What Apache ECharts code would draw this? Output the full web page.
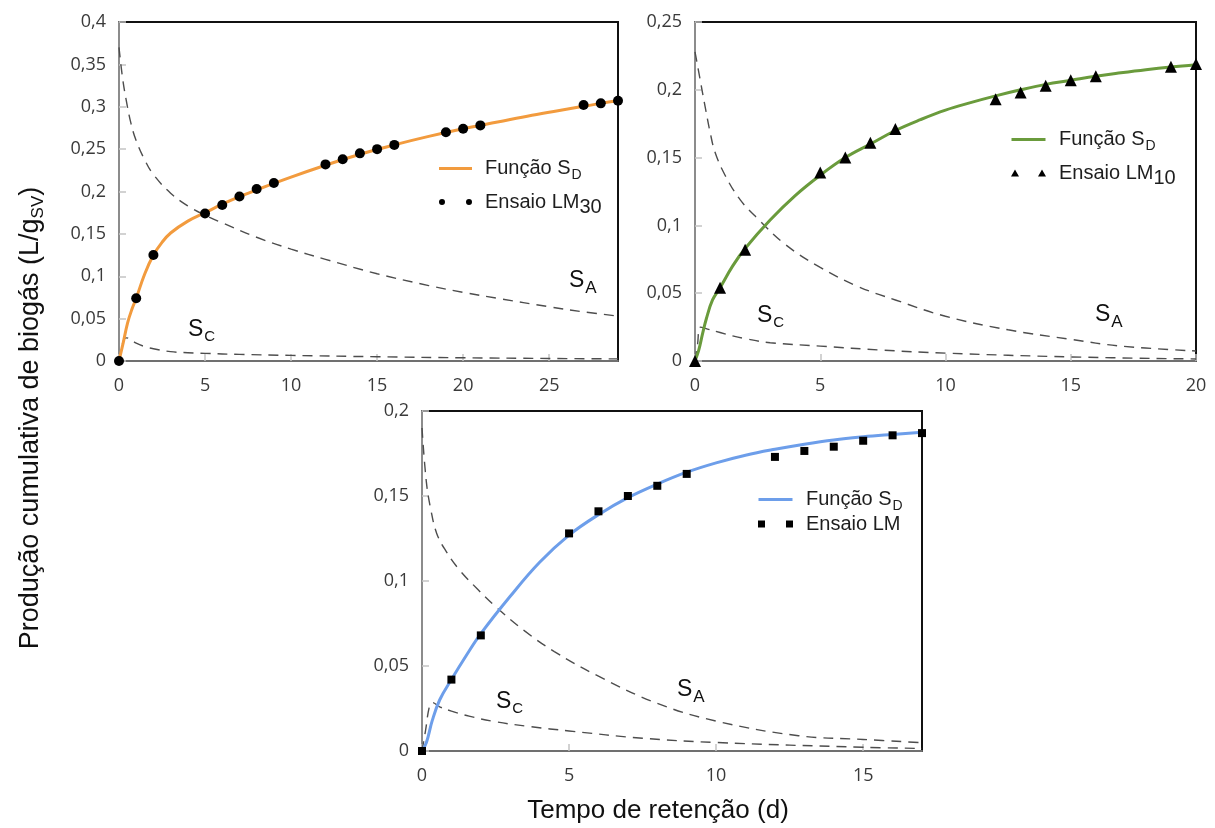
<!DOCTYPE html>
<html>
<head>
<meta charset="utf-8">
<script src="https://cdn.jsdelivr.net/npm/echarts@6/dist/echarts.min.js"></script>
<style>
  html, body { margin: 0; padding: 0; background: #ffffff; }
  #chart { width: 1215px; height: 828px; }
</style>
</head>
<body>
<div id="chart"></div>
<script>
// ---- Ensaio LM30 (x até 29 d) ----
const diasLM30 = [0, 1, 2, 5, 6, 7, 8, 9, 12, 13, 14, 15, 16, 19, 20, 21, 27, 28, 29];
const ensaioLM30 = [0, 0.074, 0.125, 0.174, 0.184, 0.194, 0.203, 0.21, 0.232, 0.238, 0.245, 0.25, 0.255, 0.27, 0.274, 0.278, 0.302, 0.304, 0.307];
const tempoSD30 = [0, 0.25, 0.5, 0.75, 1, 1.5, 2, 2.5, 3, 4, 5, 6, 7, 8, 10, 12, 14, 16, 18, 20, 22, 24, 26, 28, 29];
const funcaoSD30 = [0, 0.022, 0.045, 0.061, 0.074, 0.103, 0.125, 0.14, 0.151, 0.165, 0.175, 0.185, 0.194, 0.202, 0.217, 0.231, 0.244, 0.255, 0.265, 0.274, 0.282, 0.29, 0.297, 0.304, 0.307];
const tempoSA30 = [0, 0.2, 0.4, 0.7, 1, 1.5, 2, 3, 4, 5, 6, 8, 10, 12, 15, 18, 20, 22, 25, 27, 29];
const curvaSA30 = [0.37, 0.335, 0.31, 0.28, 0.26, 0.237, 0.22, 0.198, 0.183, 0.172, 0.163, 0.146, 0.132, 0.12, 0.103, 0.089, 0.081, 0.074, 0.064, 0.058, 0.053];
const tempoSC30 = [0, 0.15, 0.3, 0.45, 0.7, 1, 1.5, 2, 3, 4, 5, 7, 10, 15, 20, 25, 29];
const curvaSC30 = [0, 0.015, 0.026, 0.0273, 0.025, 0.021, 0.017, 0.0145, 0.011, 0.0098, 0.009, 0.0078, 0.0066, 0.005, 0.0038, 0.003, 0.0025];

// ---- Ensaio LM10 (x até 20 d) ----
const diasLM10 = [0, 1, 2, 5, 6, 7, 8, 12, 13, 14, 15, 16, 19, 20];
const ensaioLM10 = [0, 0.054, 0.082, 0.139, 0.15, 0.161, 0.171, 0.193, 0.198, 0.203, 0.207, 0.21, 0.217, 0.219];
const tempoSD10 = [0, 0.15, 0.3, 0.45, 0.7, 1, 1.5, 2, 3, 4, 5, 6, 7, 8, 9, 10, 11, 12, 13, 14, 15, 16, 17, 18, 19, 20];
const funcaoSD10 = [0, 0.008, 0.02, 0.031, 0.045, 0.054, 0.07, 0.083, 0.104, 0.122, 0.137, 0.15, 0.16, 0.17, 0.178, 0.185, 0.1905, 0.1955, 0.2, 0.204, 0.207, 0.21, 0.2125, 0.2148, 0.2168, 0.2185];
const tempoSA10 = [0, 0.2, 0.4, 0.6, 0.8, 1.2, 1.8, 2.5, 3.6, 5, 6.5, 8, 10, 12.5, 15, 17, 20];
const curvaSA10 = [0.228, 0.208, 0.188, 0.169, 0.154, 0.137, 0.119, 0.105, 0.086, 0.069, 0.055, 0.045, 0.033, 0.023, 0.016, 0.011, 0.0074];
const tempoSC10 = [0, 0.1, 0.22, 0.5, 1, 1.5, 2, 3, 5, 7.5, 10, 15, 20];
const curvaSC10 = [0, 0.012, 0.025, 0.0235, 0.021, 0.0185, 0.0165, 0.0135, 0.011, 0.008, 0.0058, 0.003, 0.0015];

// ---- Ensaio LM (x até 17 d) ----
const diasLM = [0, 1, 2, 5, 6, 7, 8, 9, 12, 13, 14, 15, 16, 17];
const ensaioLM = [0, 0.042, 0.068, 0.128, 0.141, 0.15, 0.156, 0.163, 0.173, 0.1765, 0.179, 0.1825, 0.1857, 0.187];
const tempoSD = [0, 0.15, 0.35, 0.6, 1, 1.5, 2, 3, 4, 5, 6, 7, 8, 9, 10, 11, 12, 13, 14, 15, 16, 17];
const funcaoSD = [0, 0.005, 0.018, 0.03, 0.042, 0.056, 0.069, 0.091, 0.111, 0.127, 0.139, 0.149, 0.157, 0.164, 0.1695, 0.174, 0.1775, 0.1805, 0.183, 0.1848, 0.1862, 0.1875];
const tempoSA = [0, 0.15, 0.3, 0.5, 0.8, 1.25, 1.9, 2.5, 3.5, 4.5, 6, 8, 10, 12.8, 15, 17];
const curvaSA = [0.19, 0.158, 0.142, 0.128, 0.118, 0.107, 0.095, 0.085, 0.0705, 0.0585, 0.044, 0.028, 0.0176, 0.009, 0.0068, 0.0049];
const tempoSC = [0, 0.12, 0.25, 0.35, 0.6, 1, 1.6, 2.5, 3.7, 5, 7.5, 10, 15, 17];
const curvaSC = [0, 0.012, 0.026, 0.0285, 0.026, 0.0235, 0.0205, 0.0172, 0.0143, 0.0118, 0.0075, 0.005, 0.0022, 0.0015];

// Limites dos eixos de cada painel
const xMax = [29, 20, 17];
const yMax = [0.4, 0.25, 0.2];

const pares = (xs, ys) => xs.map((x, i) => [x, ys[i]]);

const FONTE_NUM = 'Open Sans, Liberation Sans, sans-serif';
const FONTE_TXT = 'Liberation Sans, Arial, sans-serif';
const virgula = v => String(+v.toFixed(3)).replace('.', ',');

const grades = [
  { left: 119, top: 22, width: 499, height: 339 },
  { left: 695, top: 22, width: 501, height: 339 },
  { left: 422, top: 411, width: 500, height: 340 }
].map(g => Object.assign({
  show: true, borderColor: '#111', borderWidth: 2, backgroundColor: '#fff',
  containLabel: false, outerBoundsMode: 'none'
}, g));

const eixosX = xMax.map((m, i) => ({
  type: 'value', gridIndex: i, min: 0, max: m, interval: 5,
  axisLine: { show: true, onZero: false, lineStyle: { color: '#707070', width: 2 } },
  axisTick: { show: true, inside: true, length: 7, lineStyle: { color: '#c4c4c4', width: 1.5 } },
  axisLabel: { margin: 16, fontFamily: FONTE_NUM, fontSize: 18, color: '#3a3a3a', showMaxLabel: m % 5 === 0 },
  splitLine: { show: false }
}));

const eixosY = yMax.map((m, i) => ({
  type: 'value', gridIndex: i, min: 0, max: m, interval: 0.05,
  axisLine: { show: true, onZero: false, lineStyle: { color: '#8c8c8c', width: 2 } },
  axisTick: { show: true, inside: true, length: 7, lineStyle: { color: '#c4c4c4', width: 1.5 } },
  axisLabel: { margin: 13, fontFamily: FONTE_NUM, fontSize: 18, color: '#3a3a3a', formatter: virgula },
  splitLine: { show: false }
}));

function curvaTracejada(nome, i, xs, ys) {
  return {
    name: nome, type: 'line', xAxisIndex: i, yAxisIndex: i, data: pares(xs, ys),
    symbol: 'none', smooth: 0.4, silent: true, z: 2,
    lineStyle: { color: '#4d4d4d', width: 1.4, type: [10, 7] }
  };
}
function curvaSD(nome, i, xs, ys, cor) {
  return {
    name: nome, type: 'line', xAxisIndex: i, yAxisIndex: i, data: pares(xs, ys),
    symbol: 'none', smooth: 0.4, z: 3,
    itemStyle: { color: cor }, lineStyle: { color: cor, width: 3 }
  };
}
function pontos(nome, i, xs, ys, simbolo, tam) {
  return {
    name: nome, type: 'scatter', xAxisIndex: i, yAxisIndex: i, data: pares(xs, ys),
    symbol: simbolo, symbolSize: tam, z: 4, itemStyle: { color: '#000', opacity: 1 }
  };
}

const series = [
  curvaTracejada('SA30', 0, tempoSA30, curvaSA30),
  curvaTracejada('SC30', 0, tempoSC30, curvaSC30),
  curvaSD('SD30', 0, tempoSD30, funcaoSD30, '#f29b3e'),
  pontos('LM30', 0, diasLM30, ensaioLM30, 'circle', 10),

  curvaTracejada('SA10', 1, tempoSA10, curvaSA10),
  curvaTracejada('SC10', 1, tempoSC10, curvaSC10),
  curvaSD('SD10', 1, tempoSD10, funcaoSD10, '#6a9b3c'),
  pontos('LM10', 1, diasLM10, ensaioLM10, 'triangle', 12),

  curvaTracejada('SA', 2, tempoSA, curvaSA),
  curvaTracejada('SC', 2, tempoSC, curvaSC),
  curvaSD('SD', 2, tempoSD, funcaoSD, '#6d9eea'),
  pontos('LM', 2, diasLM, ensaioLM, 'rect', 8)
];

// Rótulos da legenda com índices
const rotulos = {
  SD30: '{m|Função S}{s|D}', LM30: '{m|Ensaio LM}{n|30}',
  SD10: '{m|Função S}{s|D}', LM10: '{m|Ensaio LM}{n|10}',
  SD: '{m|Função S}{s|D}', LM: '{m|Ensaio LM}'
};
const richLegenda = {
  m: { fontFamily: FONTE_TXT, fontSize: 20, lineHeight: 28, color: '#1e1e1e' },
  s: { fontFamily: FONTE_TXT, fontSize: 14, lineHeight: 14, padding: [13, 0, 0, 1], color: '#1e1e1e' },
  n: { fontFamily: FONTE_TXT, fontSize: 20, lineHeight: 20, padding: [10, 0, 0, 0], color: '#1e1e1e' }
};
// Ícones: traço de 3 px (com cantos invisíveis para fixar a caixa), pares de marcadores
const iconeTraco = 'path://M0,0h0.01v0.01h-0.01z M0,2h34v3h-34z M0,6.99h0.01v0.01h-0.01z';
const iconeDots = 'path://M0,3.5a3,3 0 1,1 6,0a3,3 0 1,1 -6,0z M27,3.5a3,3 0 1,1 6,0a3,3 0 1,1 -6,0z M0,0h0.01v0.01h-0.01z M0,6.99h0.01v0.01h-0.01z';
const iconeTri = 'path://M4,0L8,7H0z M31,0L35,7H27z';
const iconeQuad = 'path://M0,0h7v7h-7z M28,0h7v7h-7z';

function legenda(linha, pts, icone, left, top, gap, w) {
  return {
    orient: 'vertical', left: left, top: top, itemGap: gap, itemWidth: w, itemHeight: 7,
    selectedMode: false, padding: 0,
    data: [{ name: linha, icon: iconeTraco }, { name: pts, icon: icone }],
    formatter: n => rotulos[n],
    textStyle: { padding: [0, 0, 0, 8], rich: richLegenda }
  };
}

const legendas = [
  legenda('SD30', 'LM30', iconeDots, 439, 155, 5, 33),
  legenda('SD10', 'LM10', iconeTri, 1011, 126, 5, 35),
  legenda('SD', 'LM', iconeQuad, 758, 486, 1, 35)
];

// Rótulos S_A / S_C sobre as curvas tracejadas
function rotuloS(x, y, letra, tamSub) {
  return {
    type: 'text', x: x, y: y, silent: true,
    style: {
      text: '{a|S}{b|' + letra + '}', align: 'left', verticalAlign: 'top',
      rich: {
        a: { fontFamily: FONTE_TXT, fontSize: 23, lineHeight: 28, fill: '#111', color: '#111' },
        b: { fontFamily: FONTE_TXT, fontSize: tamSub, lineHeight: tamSub, padding: [14, 0, 0, 1], fill: '#111', color: '#111' }
      }
    }
  };
}

const graficos = [
  rotuloS(188, 316, 'C', 15),
  rotuloS(569, 267, 'A', 17),
  rotuloS(757, 302, 'C', 15),
  rotuloS(1095, 301, 'A', 17),
  rotuloS(496, 688, 'C', 15),
  rotuloS(677, 676, 'A', 17),
  {
    type: 'text', x: 658, y: 811, silent: true,
    style: {
      text: 'Tempo de retenção (d)', align: 'center', verticalAlign: 'middle',
      fontFamily: FONTE_TXT, fontSize: 26, fill: '#111'
    }
  },
  {
    type: 'text', x: 31, y: 418, rotation: Math.PI / 2, silent: true,
    style: {
      text: '{t|Produção cumulativa de biogás (L/g}{u|SV}{t|)}', align: 'center', verticalAlign: 'middle',
      rich: {
        t: { fontFamily: FONTE_TXT, fontSize: 27, lineHeight: 32, fill: '#111', color: '#111' },
        u: { fontFamily: FONTE_TXT, fontSize: 17, lineHeight: 17, padding: [15, 0, 0, 0], fill: '#111', color: '#111' }
      }
    }
  }
];

const chart = echarts.init(document.getElementById('chart'), null, { renderer: 'canvas' });
chart.setOption({
  animation: false,
  backgroundColor: '#ffffff',
  grid: grades,
  xAxis: eixosX,
  yAxis: eixosY,
  legend: legendas,
  series: series,
  graphic: graficos
});
</script>
</body>
</html>
